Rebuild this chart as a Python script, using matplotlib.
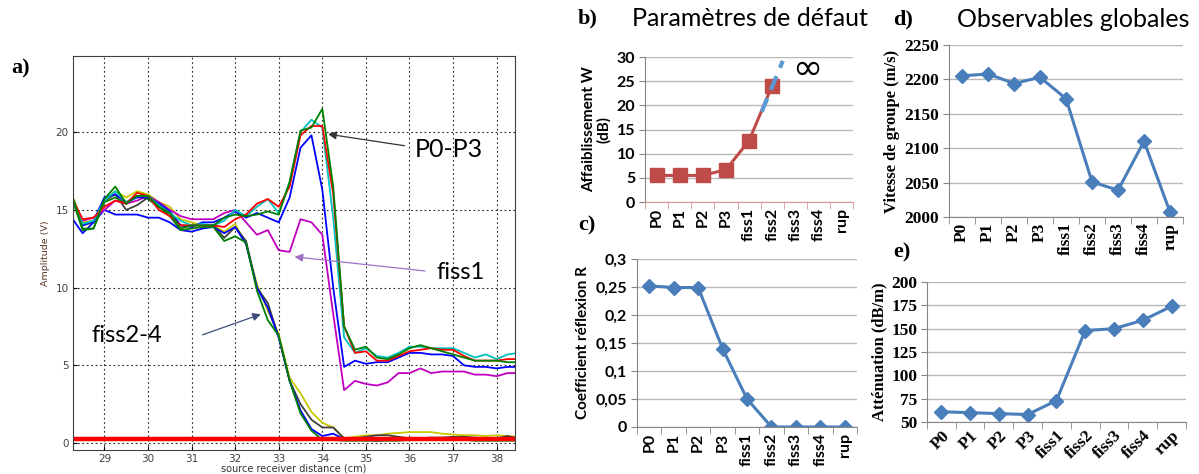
import numpy as np
import matplotlib
matplotlib.use('Agg')
import matplotlib.pyplot as plt

SANS = ['Lato', 'DejaVu Sans']
SERIF = ['Liberation Serif', 'DejaVu Serif']

# ---- a) amplitude vs source-receiver distance ----
dist = np.linspace(28.25, 38.5, 42)

amp_red = [15.8, 14.4, 14.5, 15.2, 15.6, 15.4, 16.1, 15.9, 15.0, 14.6, 14.0, 14.0, 14.0, 14.0,
           13.9, 14.4, 14.7, 15.4, 15.7, 15.2, 16.5, 19.8, 20.4, 20.4, 16.0, 7.5, 5.8, 5.9,
           5.3, 5.3, 5.6, 5.9, 6.0, 6.1, 6.0, 6.0, 5.6, 5.3, 5.3, 5.3, 5.4, 5.4]
amp_cyan = [15.8, 14.1, 14.3, 15.6, 16.2, 15.5, 15.9, 15.9, 15.3, 14.8, 14.3, 14.0, 14.1, 14.0,
            14.3, 15.0, 14.6, 15.2, 15.7, 14.8, 16.8, 20.0, 20.8, 20.3, 14.5, 6.8, 5.8, 6.1,
            5.6, 5.5, 5.8, 6.2, 6.2, 6.1, 6.1, 6.1, 5.8, 5.5, 5.7, 5.4, 5.7, 5.8]
amp_green = [16.0, 13.8, 13.8, 15.7, 16.5, 15.4, 15.9, 15.9, 15.2, 14.8, 13.8, 14.0, 14.0, 14.0,
             14.5, 14.7, 14.6, 14.7, 14.9, 14.7, 16.8, 20.1, 20.3, 21.5, 16.5, 7.5, 6.0, 6.2,
             5.5, 5.4, 5.7, 6.1, 6.3, 6.1, 5.9, 5.7, 5.5, 5.3, 5.3, 5.3, 5.2, 5.2]
amp_blue = [15.9, 14.0, 14.3, 15.8, 16.0, 15.5, 15.8, 15.8, 15.4, 14.9, 14.0, 13.9, 14.2, 14.2,
            14.5, 14.9, 14.5, 14.8, 14.5, 14.2, 15.8, 19.0, 19.8, 16.3, 10.0, 4.9, 5.3, 5.1,
            5.2, 5.2, 5.5, 5.8, 5.8, 5.7, 5.7, 5.6, 5.0, 4.9, 4.9, 4.8, 4.9, 4.9]
amp_fiss1 = [15.8, 14.3, 14.5, 15.0, 15.6, 15.4, 15.6, 15.9, 15.5, 15.0, 14.6, 14.4, 14.4, 14.4,
             14.8, 15.0, 14.2, 13.4, 13.7, 12.4, 12.3, 14.4, 14.2, 13.4, 8.3, 3.4, 4.0, 3.8,
             3.7, 3.9, 4.5, 4.5, 4.8, 4.5, 4.6, 4.6, 4.6, 4.4, 4.4, 4.3, 4.5, 4.5]
amp_yellow = [16.0, 14.2, 14.3, 15.6, 16.2, 15.8, 16.2, 16.0, 15.5, 15.2, 14.4, 14.2, 14.0, 14.0,
              13.6, 14.1, 12.8, 10.2, 8.5, 7.0, 4.2, 3.2, 2.0, 1.3, 1.0, 0.3, 0.4, 0.5,
              0.5, 0.6, 0.65, 0.7, 0.7, 0.7, 0.6, 0.55, 0.5, 0.5, 0.45, 0.5, 0.45, 0.4]
amp_gray = [15.9, 14.0, 14.2, 15.6, 16.0, 15.0, 15.3, 15.8, 15.2, 14.8, 14.0, 14.0, 14.0, 14.0,
            13.2, 13.9, 13.0, 10.0, 9.0, 6.8, 4.0, 2.5, 1.5, 1.0, 1.0, 0.3, 0.3, 0.4,
            0.5, 0.5, 0.4, 0.3, 0.3, 0.35, 0.35, 0.4, 0.4, 0.35, 0.3, 0.3, 0.45, 0.3]
amp_blue2 = [14.5, 13.5, 14.2, 15.0, 14.7, 14.7, 14.7, 14.5, 14.5, 14.2, 13.7, 13.6, 13.8, 13.9,
             13.5, 13.9, 12.8, 10.0, 8.7, 6.8, 4.0, 2.1, 0.9, 0.45, 0.6, 0.25, 0.2, 0.2,
             0.15, 0.2, 0.25, 0.25, 0.25, 0.3, 0.3, 0.3, 0.3, 0.25, 0.25, 0.2, 0.2, 0.2]
amp_green2 = [15.8, 13.7, 13.8, 15.5, 15.8, 15.4, 15.9, 15.7, 15.2, 14.6, 13.7, 13.8, 13.9, 13.9,
              13.0, 13.3, 12.9, 9.8, 7.9, 6.9, 4.0, 1.9, 0.8, 0.2, 0.2, 0.15, 0.15, 0.15,
              0.15, 0.15, 0.15, 0.2, 0.2, 0.2, 0.2, 0.2, 0.2, 0.15, 0.15, 0.15, 0.15, 0.15]
rup_level = 0.25

# ---- b) - e) per state ----
states = ['P0', 'P1', 'P2', 'P3', 'fiss1', 'fiss2', 'fiss3', 'fiss4', 'rup']
affaiblissement = [5.5, 5.5, 5.5, 6.7, 12.7, 24.1]
w_trend = [18.7, 29.2]
reflexion = [0.252, 0.249, 0.249, 0.14, 0.05, 0, 0, 0, 0]
vitesse = [2205, 2208, 2194, 2203, 2172, 2051, 2039, 2110, 2007]
attenuation = [61, 60, 59, 58, 73, 148, 150, 159, 174]

EXCEL_BLUE = '#4a7ebb'
EXCEL_RED = '#be4b48'

fig = plt.figure(figsize=(11.99, 4.74), dpi=100)

# ---------------- panel a ----------------
ax = fig.add_axes([0.0609, 0.0506, 0.3686, 0.8312])
for vals, col in [(amp_yellow, '#c8c800'), (amp_gray, '#404040'), (amp_blue2, '#0000ff'),
                  (amp_green2, '#008000'), (amp_fiss1, '#c000c0'), (amp_blue, '#0000ff'),
                  (amp_cyan, '#00c0c0'), (amp_red, '#ff0000'), (amp_green, '#008000')]:
    ax.plot(dist, vals, color=col, lw=1.3)
ax.axhline(rup_level, color='#ff0000', lw=3.2)
ax.set_xlim(28.28, 38.42)
ax.set_ylim(-0.45, 24.9)
ax.set_xticks(range(29, 39))
ax.set_yticks([0, 5, 10, 15, 20])
ax.grid(True, color='#222222', ls=(0, (1.5, 2.5)), lw=0.8)
ax.tick_params(labelsize=7.5, labelcolor='#404040', direction='in', length=3, pad=3)
for s in ax.spines.values():
    s.set_color('#404040')
ax.set_ylabel('Amplitude (V)', fontsize=6.8, color='#553322', labelpad=4)
fig.text(0.245, 0.001, 'source receiver distance (cm)', fontsize=7, color='#333333',
         ha='center', va='bottom')

ax.annotate('', xy=(34.07, 19.9), xytext=(35.95, 19.1),
            arrowprops=dict(arrowstyle='-|>', color='#333333', lw=0.9, mutation_scale=12))
ax.text(36.12, 18.9, 'P0-P3', fontsize=18, family=SANS, va='center', ha='left')
ax.annotate('', xy=(33.3, 12.0), xytext=(36.42, 11.05),
            arrowprops=dict(arrowstyle='-|>', color='#a070c8', lw=0.9, mutation_scale=12))
ax.text(36.63, 11.0, 'fiss1', fontsize=17, family=SANS, va='center', ha='left')
ax.annotate('', xy=(32.65, 8.35), xytext=(31.19, 6.9),
            arrowprops=dict(arrowstyle='-|>', color='#3b4e7a', lw=0.9, mutation_scale=12))
ax.text(28.71, 6.9, 'fiss2-4', fontsize=17, family=SANS, va='center', ha='left')
fig.text(0.009, 0.845, 'a)', fontsize=16, fontweight='bold', family=SERIF)


def excel_style(ax, fam, weight, size, rot, axis_col='#868686'):
    ax.set_xlim(-0.5, 8.5)
    ax.set_xticks(range(len(states)))
    if rot == 45:
        ax.set_xticklabels(states, rotation=45, ha='right', rotation_mode='anchor')
    else:
        ax.set_xticklabels(states, rotation=90)
    ax.set_xticks(np.arange(-0.5, 9, 1), minor=True)
    ax.tick_params(axis='x', which='major', length=0, pad=4)
    ax.tick_params(axis='x', which='minor', length=5, color=axis_col)
    ax.tick_params(axis='y', length=4, color=axis_col, pad=3)
    for lab in ax.get_xticklabels() + ax.get_yticklabels():
        lab.set_family(fam)
        lab.set_fontweight(weight)
        lab.set_fontsize(size)
    ax.spines['top'].set_visible(False)
    ax.spines['right'].set_visible(False)
    ax.spines['left'].set_color(axis_col)
    ax.spines['bottom'].set_color(axis_col)
    ax.yaxis.grid(True, color='#b8b8b8', lw=1.0)
    ax.set_axisbelow(True)


# ---------------- panel b ----------------
axb = fig.add_axes([0.538, 0.5738, 0.1735, 0.3059])
xb = np.arange(len(affaiblissement))
axb.plot(xb, affaiblissement, color=EXCEL_RED, lw=2.2, marker='s', ms=9.5,
         mfc=EXCEL_RED, mec=EXCEL_RED, zorder=3)
axb.plot([xb[-1] - 0.45, xb[-1] + 0.46], w_trend, color='#5b9bd5', lw=3, ls=(0, (3.5, 2.2)),
         zorder=4)
axb.text(6.5, 27.5, '\u221e', fontsize=26, family=['DejaVu Sans'], ha='center', va='center')
axb.set_ylim(0, 30)
axb.set_yticks(range(0, 31, 5))
excel_style(axb, SANS, 'bold', 11.5, 90)
axb.spines['bottom'].set_color('#d99694')
axb.tick_params(axis='x', which='minor', color='#d99694')
axb.set_ylabel('Affaiblissement W\n(dB)', family=SANS, fontweight='bold', fontsize=11,
               labelpad=4, linespacing=1.05)
fig.text(0.482, 0.962, 'b)', fontsize=16, fontweight='bold', family=SERIF, va='center')
fig.text(0.527, 0.962, 'Param\u00e8tres de d\u00e9faut', fontsize=18, family=SANS, va='center')

# ---------------- panel c ----------------
axc = fig.add_axes([0.5313, 0.0992, 0.1835, 0.3544])
axc.plot(range(len(states)), reflexion, color=EXCEL_BLUE, lw=2.2, marker='D', ms=7.5,
         mfc=EXCEL_BLUE, mec=EXCEL_BLUE)
axc.set_ylim(0, 0.3)
axc.set_yticks([0, 0.05, 0.1, 0.15, 0.2, 0.25, 0.3])
axc.set_yticklabels(['0', '0,05', '0,1', '0,15', '0,2', '0,25', '0,3'])
excel_style(axc, SANS, 'bold', 11.5, 90)
axc.set_ylabel('Coefficient r\u00e9flexion R', family=SANS, fontweight='bold', fontsize=11,
               labelpad=4)
fig.text(0.482, 0.525, 'c)', fontsize=16, fontweight='bold', family=SERIF, va='center')

# ---------------- panel d ----------------
axd = fig.add_axes([0.7915, 0.5422, 0.1952, 0.3629])
axd.plot(range(len(states)), vitesse, color=EXCEL_BLUE, lw=2.2, marker='D', ms=7.5,
         mfc=EXCEL_BLUE, mec=EXCEL_BLUE)
axd.set_ylim(2000, 2250)
axd.set_yticks(range(2000, 2251, 50))
excel_style(axd, SERIF, 'bold', 12.5, 90)
axd.set_ylabel('Vitesse de groupe (m/s)', family=SERIF, fontweight='bold', fontsize=12,
               labelpad=3)
fig.text(0.745, 0.958, 'd)', fontsize=16, fontweight='bold', family=SERIF, va='center')
fig.text(0.798, 0.958, 'Observables globales', fontsize=18, family=SANS, va='center')

# ---------------- panel e ----------------
axe = fig.add_axes([0.7731, 0.1097, 0.216, 0.2953])
axe.plot(range(len(states)), attenuation, color=EXCEL_BLUE, lw=2.2, marker='D', ms=7.5,
         mfc=EXCEL_BLUE, mec=EXCEL_BLUE)
axe.set_ylim(50, 200)
axe.set_yticks(range(50, 201, 25))
excel_style(axe, SERIF, 'bold', 12.5, 45)
axe.set_ylabel('Att\u00e9nuation (dB/m)', family=SERIF, fontweight='bold', fontsize=12,
               labelpad=3)
fig.text(0.745, 0.468, 'e)', fontsize=16, fontweight='bold', family=SERIF, va='center')

fig.savefig('out.png', dpi=100)
